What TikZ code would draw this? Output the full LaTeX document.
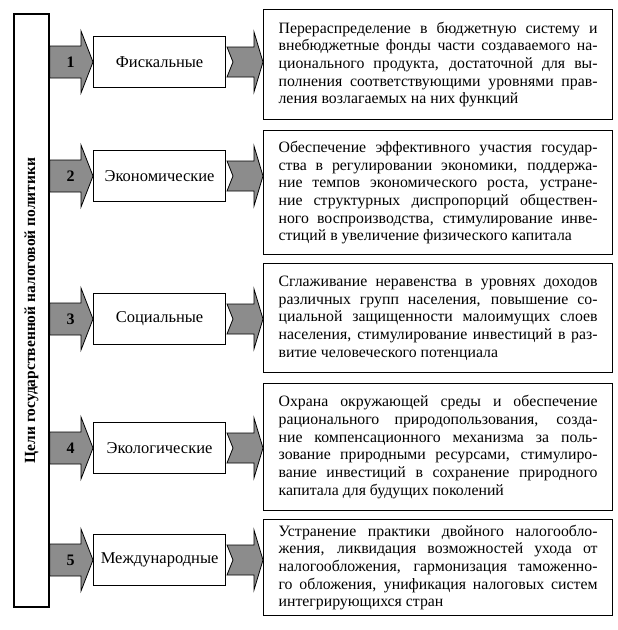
\documentclass[tikz,border=0pt]{standalone}
\usepackage{fontspec}
\setmainfont{Liberation Serif}
\usetikzlibrary{calc}
\tikzset{
  goalbox/.style={draw, minimum width=35pt, minimum height=593pt, inner sep=0pt},
  kindbox/.style={draw, fill=white, minimum width=132pt, minimum height=51pt, inner sep=0pt, font=\fontsize{16.5}{19}\selectfont},
  descbox/.style={draw, text width=319pt, inner xsep=15pt, inner ysep=4pt, align=justify, font=\fontsize{15.8}{17.7}\selectfont},
  arrowfill/.style={fill=black!45, draw=black, line width=0.8pt}
}
\begin{document}
\begin{tikzpicture}[x=1pt, y=-1pt, line width=1.2pt]
\useasboundingbox (0,0) rectangle (618,630);
\node[goalbox] (goal) at (31.5,310.5) {};
\node[rotate=90, font=\fontsize{15.5}{18}\selectfont\bfseries] (goaltext) at (goal.center) {Цели государственной налоговой политики};
\node[kindbox, anchor=west] (m1) at (93,62) {Фискальные};
\node[kindbox, anchor=west] (m2) at (93,176) {Экономические};
\node[kindbox, anchor=west] (m3) at (93,319) {Социальные};
\node[kindbox, anchor=west] (m4) at (93,448) {Экологические};
\node[kindbox, anchor=west] (m5) at (93,560) {Международные};
\node[descbox, anchor=north west, minimum height=110pt] (r1) at (263,9) {Перераспределение в бюджетную систему и\linebreak внебюджетные фонды части создаваемого на-\linebreak ционального продукта, достаточной для вы-\linebreak полнения соответствующими уровнями прав-\linebreak ления возлагаемых на них функций};
\node[descbox, anchor=north west, minimum height=124pt] (r2) at (263,130) {Обеспечение эффективного участия государ-\linebreak ства в регулировании экономики, поддержа-\linebreak ние темпов экономического роста, устране-\linebreak ние структурных диспропорций обществен-\linebreak ного воспроизводства, стимулирование инве-\linebreak стиций в увеличение физического капитала};
\node[descbox, anchor=north west, minimum height=109pt] (r3) at (263,263) {Сглаживание неравенства в уровнях доходов\linebreak различных групп населения, повышение со-\linebreak циальной защищенности малоимущих слоев\linebreak населения, стимулирование инвестиций в раз-\linebreak витие человеческого потенциала};
\node[descbox, anchor=north west, minimum height=127pt] (r4) at (263,383) {Охрана окружающей среды и обеспечение\linebreak рационального природопользования, созда-\linebreak ние компенсационного механизма за поль-\linebreak зование природными ресурсами, стимулиро-\linebreak вание инвестиций в сохранение природного\linebreak капитала для будущих поколений};
\node[descbox, anchor=north west, minimum height=96pt] (r5) at (263,519) {Устранение практики двойного налогообло-\linebreak жения, ликвидация возможностей ухода от\linebreak налогообложения, гармонизация таможенно-\linebreak го обложения, унификация налоговых систем\linebreak интегрирующихся стран};
\foreach \i in {1,...,5}{
  \coordinate (s\i) at (goal.east |- m\i.west);
  \coordinate (t\i) at (r\i.west |- m\i.west);
  \filldraw[arrowfill] ($(s\i)+(0,-16)$) -- ($(m\i.west)+(-12,-16)$) -- ($(m\i.west)+(-12,-31)$) -- (m\i.west)
    -- ($(m\i.west)+(-12,31)$) -- ($(m\i.west)+(-12,16)$) -- ($(s\i)+(0,16)$) -- cycle;
  \node[font=\fontsize{16}{19}\selectfont\bfseries] (n\i) at ($(s\i)+(21,0)$) {\i};
  \filldraw[arrowfill] ($(t\i)+(-36,-15)$) -- ($(t\i)+(-9,-15)$) -- ($(t\i)+(-9,-30)$) -- (t\i)
    -- ($(t\i)+(-9,30)$) -- ($(t\i)+(-9,15)$) -- ($(t\i)+(-36,15)$) -- ($(t\i)+(-30,0)$) -- cycle;
}
\end{tikzpicture}
\end{document}
